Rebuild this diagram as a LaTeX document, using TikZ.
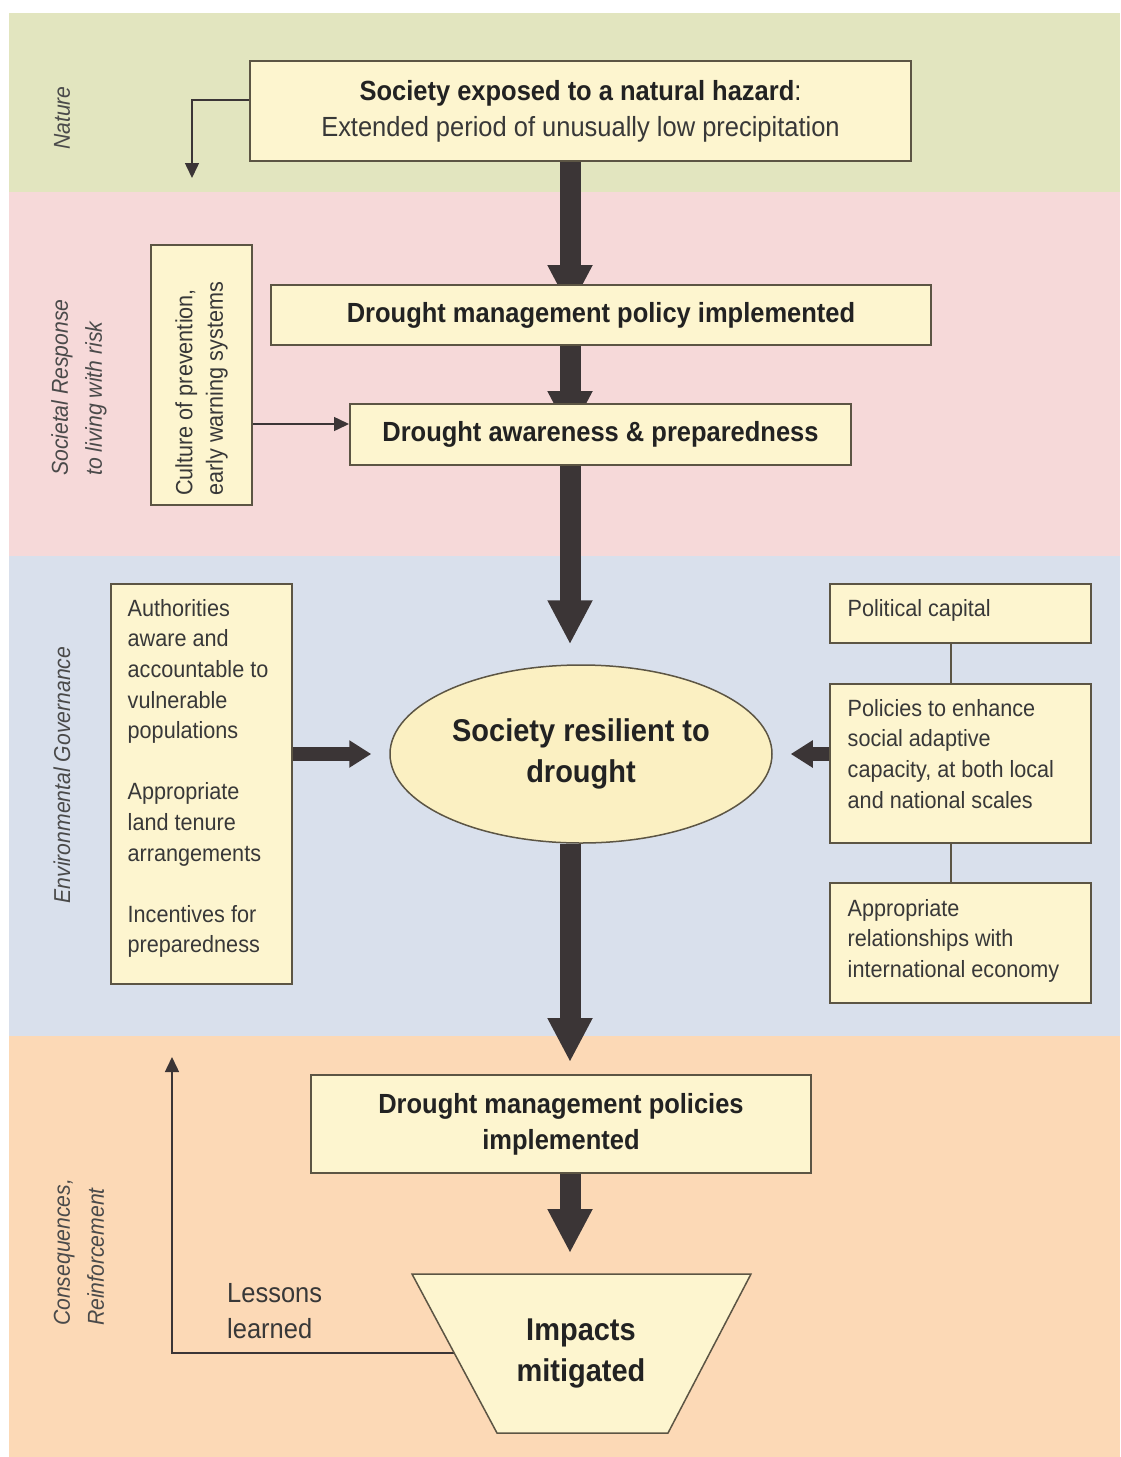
\documentclass[tikz,border=0pt]{standalone}
\usepackage{fontspec}
\setmainfont{Liberation Sans}[FakeStretch=0.92]
\usetikzlibrary{arrows.meta,shapes.geometric}
\definecolor{natc}{HTML}{E2E5BF}
\definecolor{socc}{HTML}{F6D9D9}
\definecolor{govc}{HTML}{D9E0EC}
\definecolor{conc}{HTML}{FCD9B6}
\definecolor{boxfill}{HTML}{FDF5CF}
\definecolor{ellfill}{HTML}{FBF0C2}
\definecolor{bordc}{HTML}{5C5544}
\definecolor{arrc}{HTML}{3B3536}
\definecolor{textc}{HTML}{222222}
\definecolor{smallc}{HTML}{383838}
\definecolor{sidec}{HTML}{4A4A4A}
\pgfdeclarelayer{bg}
\pgfdeclarelayer{arr}
\pgfsetlayers{bg,arr,main}
\begin{document}
\begin{tikzpicture}[x=1pt,y=-1pt,
  box/.style={draw=bordc, line width=2pt, fill=boxfill, inner sep=0pt, align=center, text=textc},
  bigfont/.style={font=\fontsize{27.7}{36}\selectfont},
  hugefont/.style={font=\fontsize{31.5}{41}\selectfont\bfseries},
  small/.style={font=\fontsize{23.5}{30.6}\selectfont, text=smallc, inner sep=0pt},
  side/.style={font=\fontsize{23}{34}\selectfont\itshape, text=sidec, rotate=90, inner sep=0pt},
  bigarrow/.style={draw=arrc, line width=21pt, -{Triangle[width=42pt,length=44pt]}},
  midarrow/.style={draw=arrc, line width=14pt, -{Triangle[width=26pt,length=22pt]}},
  thinline/.style={draw=bordc, line width=1.5pt},
  thinarrow/.style={draw=arrc, line width=1.5pt, -{Triangle[width=14pt,length=15pt]}}
]
\useasboundingbox (0,0) rectangle (1120,1457);
\begin{pgfonlayer}{bg}
\fill[white] (0,0) rectangle (1120,1457);
\fill[natc] (9,13) rectangle (1120,192);
\fill[socc] (9,192) rectangle (1120,556);
\fill[govc] (9,556) rectangle (1120,1036);
\fill[conc] (9,1036) rectangle (1120,1457);
\end{pgfonlayer}

% coordinates
\coordinate (spine) at (570,0);
\coordinate (natY) at (0,100);
\coordinate (natTip) at (192,178);
\coordinate (cultY) at (0,424);
\coordinate (fbTip) at (172,1057);
\coordinate (link) at (951,0);

% side labels
\node[side] (lnat) at (62,118) {Nature};
\node[side, anchor=west, align=left] (lsoc) at (79,476) {Societal Response\\to living with risk};
\node[side] (lgov) at (62,775) {Environmental Governance};
\node[side, anchor=west, align=left] (lcon) at (79,1326) {Consequences,\\Reinforcement};

% main chain
\node[box, bigfont, minimum width=661pt, minimum height=100pt] (haz) at (580.5,111)
  {\textbf{Society exposed to a natural hazard}:\\\color{smallc}Extended period of unusually low precipitation};
\node[box, bigfont, minimum width=660pt, minimum height=60pt] (pol1) at (601,315)
  {\textbf{Drought management policy implemented}};
\node[box, bigfont, minimum width=501pt, minimum height=61pt] (aware) at (600.5,434.5)
  {\textbf{Drought awareness \& preparedness}};
\node[box, minimum width=101pt, minimum height=260pt] (cult) at (201.5,375) {};
\node[small, rotate=90, anchor=west, align=left] (cultt) at (201.5,496)
  {Culture of prevention,\\early warning systems};

\node[ellipse, draw=bordc, line width=1.5pt, fill=ellfill, inner sep=0pt, align=center,
  text=textc, hugefont, minimum width=382pt, minimum height=178pt] (res) at (581,754)
  {Society resilient to\\drought};

% governance left
\node[box, minimum width=181pt, minimum height=400pt] (gov) at (201.5,784) {};
\node[small, anchor=north west, align=left] (govt) at (127.5,599)
  {Authorities\\aware and\\accountable to\\vulnerable\\populations\\[30.6pt]Appropriate\\land tenure\\arrangements\\[30.6pt]Incentives for\\preparedness};

% governance right
\node[box, minimum width=261pt, minimum height=59pt] (cap) at (960.5,613.5) {};
\node[small, anchor=north west, align=left] (capt) at (847.5,599) {Political capital};
\node[box, minimum width=261pt, minimum height=159pt] (adapt) at (960.5,763.5) {};
\node[small, anchor=north west, align=left] (adaptt) at (847.5,699)
  {Policies to enhance\\social adaptive\\capacity, at both local\\and national scales};
\node[box, minimum width=261pt, minimum height=120pt] (intl) at (960.5,943) {};
\node[small, anchor=north west, align=left] (intlt) at (847.5,899)
  {Appropriate\\relationships with\\international economy};

% consequences
\node[box, bigfont, minimum width=500pt, minimum height=98pt] (pol2) at (561,1124)
  {\textbf{Drought management policies}\\\textbf{implemented}};
\filldraw[fill=boxfill, draw=bordc, line width=1.5pt]
  (412,1274) -- (751,1274) -- (668,1433) -- (497,1433) -- cycle;
\node[hugefont, text=textc, align=center, inner sep=0pt] (imp) at (581,1353) {Impacts\\mitigated};
\coordinate (impL) at (455,1353);
\coordinate (impT) at (570,1274);
\node[bigfont, text=smallc, anchor=west, align=left, inner sep=0pt] (lessons) at (227,1311)
  {Lessons\\learned};

% connectors
\begin{pgfonlayer}{arr}
\draw[bigarrow, shorten >=-25pt] (haz.south -| spine) -- (pol1.north -| spine);
\draw[bigarrow, shorten >=-32pt] (pol1.south -| spine) -- (aware.north -| spine);
\draw[bigarrow, shorten >=20pt] (aware.south -| spine) -- (res.north -| spine);
\draw[bigarrow, shorten >=12pt] (res.south -| spine) -- (pol2.north -| spine);
\draw[bigarrow, shorten >=21pt] (pol2.south -| spine) -- (impT);
\draw[midarrow, shorten >=18pt] (gov.east |- res.center) -- (res.west);
\draw[midarrow, shorten >=18pt] (adapt.west |- res.center) -- (res.east);
\draw[thinarrow] (haz.west |- natY) -| (natTip);
\draw[thinarrow] (cult.east |- cultY) -- (aware.west |- cultY);
\draw[thinarrow] (impL) -| (fbTip);
\draw[thinline] (cap.south -| link) -- (adapt.north -| link);
\draw[thinline] (adapt.south -| link) -- (intl.north -| link);
\end{pgfonlayer}
\end{tikzpicture}
\end{document}
